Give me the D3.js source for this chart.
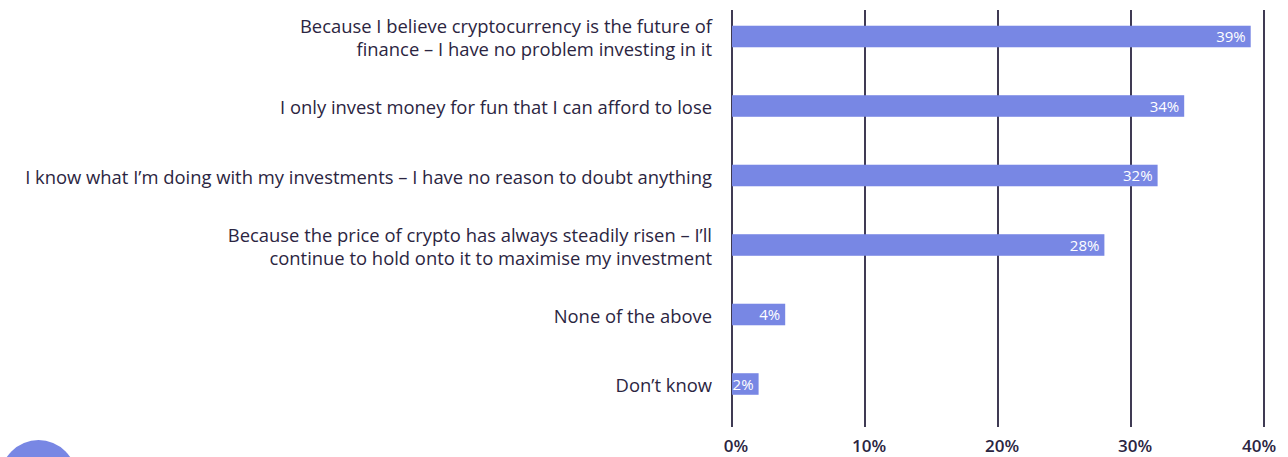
<!DOCTYPE html>
<html>
<head>
<meta charset="utf-8">
<script src="https://cdn.jsdelivr.net/npm/d3@7"></script>
<style>
  html, body { margin: 0; padding: 0; background: #ffffff; }
  svg { display: block; }
  text { font-family: "Open Sans", "Noto Sans", sans-serif; }
</style>
</head>
<body>
<svg id="chart" width="1288" height="457"></svg>
<script>
// Survey answers (each entry is the label broken into its lines)
const categories = [
  ["Because I believe cryptocurrency is the future of", "finance \u2013 I have no problem investing in it"],
  ["I only invest money for fun that I can afford to lose"],
  ["I know what I\u2019m doing with my investments \u2013 I have no reason to doubt anything"],
  ["Because the price of crypto has always steadily risen \u2013 I\u2019ll", "continue to hold onto it to maximise my investment"],
  ["None of the above"],
  ["Don\u2019t know"]
];
const values = [39, 34, 32, 28, 4, 2];
const tickValues = [0, 10, 20, 30, 40];
const tickLabels = ["0%", "10%", "20%", "30%", "40%"];

const barColor = "#7887e4";
const inkColor = "#2b2541";

const svg = d3.select("#chart");
const keys = categories.map((c, i) => i);

const x = d3.scaleLinear().domain([0, 40]).range([732, 1264]);
const y = d3.scaleBand().domain(keys).range([1.75, 418.75])
  .paddingInner(0.69).paddingOuter(0.345);

// decorative disc in the lower-left corner
svg.append("circle")
  .attr("cx", 38.5).attr("cy", 478).attr("r", 38)
  .attr("fill", barColor);

// vertical gridlines
svg.append("g").selectAll("line")
  .data(tickValues)
  .join("line")
  .attr("x1", d => x(d)).attr("x2", d => x(d))
  .attr("y1", 10).attr("y2", 427)
  .attr("stroke", inkColor)
  .attr("stroke-width", 1.8);

// x axis tick labels
svg.append("g").selectAll("text")
  .data(tickValues)
  .join("text")
  .attr("x", d => x(d) + (d === 40 ? -5 : 4))
  .attr("y", 452)
  .attr("text-anchor", "middle")
  .attr("font-size", 17)
  .attr("font-weight", 600)
  .attr("fill", inkColor)
  .text((d, i) => tickLabels[i]);

// bars
svg.append("g").selectAll("rect")
  .data(values)
  .join("rect")
  .attr("x", x(0))
  .attr("y", (d, i) => y(i))
  .attr("width", d => x(d) - x(0))
  .attr("height", y.bandwidth())
  .attr("fill", barColor);

// value labels inside the bar ends
svg.append("g").selectAll("text")
  .data(values)
  .join("text")
  .attr("x", d => x(d) - 5)
  .attr("y", (d, i) => y(i) + y.bandwidth() / 2 + 5.5)
  .attr("text-anchor", "end")
  .attr("font-size", 15)
  .attr("fill", "#ffffff")
  .text(d => d + "%");

// category labels
const lineGap = 23;
const labels = svg.append("g").selectAll("text")
  .data(categories)
  .join("text")
  .attr("text-anchor", "end")
  .attr("font-size", 18.4)
  .attr("font-weight", 500)
  .attr("fill", inkColor);

labels.each(function(lines, i) {
  const cy = y(i) + y.bandwidth() / 2 + 2;
  const first = cy - (lines.length - 1) * lineGap / 2;
  d3.select(this).selectAll("tspan")
    .data(lines)
    .join("tspan")
    .attr("x", 712)
    .attr("y", (d, j) => first + j * lineGap + 6)
    .text(d => d);
});
</script>
</body>
</html>
